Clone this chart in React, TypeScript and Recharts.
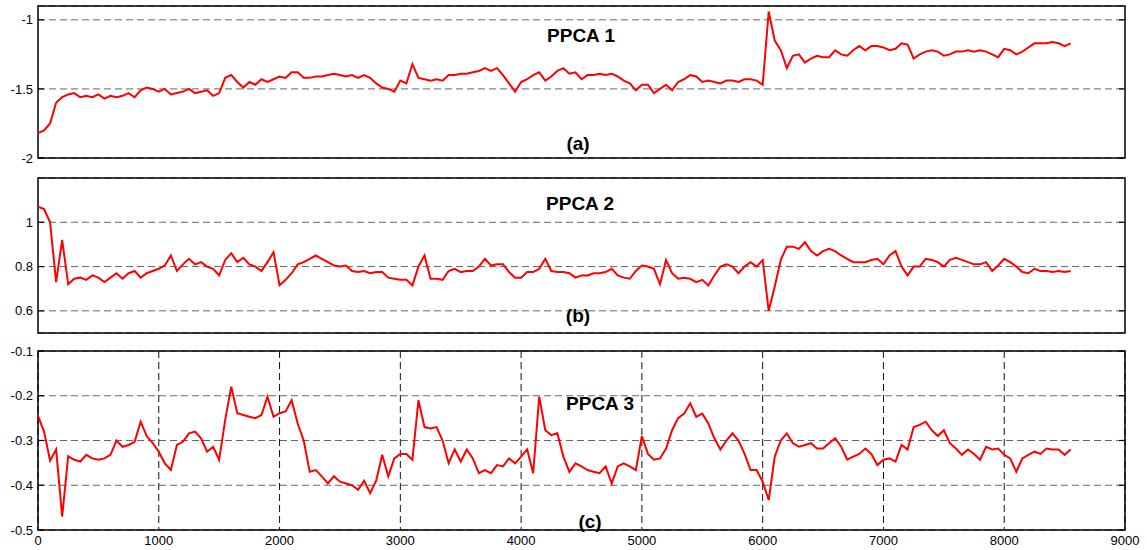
import { LineChart, Line, XAxis, YAxis, CartesianGrid, ReferenceArea } from 'recharts'

const FONT = '"Liberation Sans", Arial, Helvetica, sans-serif'
const STEP = 50

const xTicks = [0, 1000, 2000, 3000, 4000, 5000, 6000, 7000, 8000, 9000]
const ticks1 = [-2, -1.5, -1]
const ticks2 = [0.6, 0.8, 1]
const ticks3 = [-0.5, -0.4, -0.3, -0.2, -0.1]

const ppca1 = [
  -1.82, -1.80, -1.75, -1.60, -1.56, -1.54, -1.53, -1.56, -1.55, -1.56,
  -1.54, -1.57, -1.55, -1.56, -1.55, -1.53, -1.56, -1.51, -1.49, -1.50,
  -1.52, -1.50, -1.54, -1.53, -1.52, -1.50, -1.53, -1.52, -1.51, -1.55,
  -1.53, -1.42, -1.40, -1.45, -1.49, -1.45, -1.47, -1.43, -1.45, -1.43,
  -1.41, -1.42, -1.38, -1.38, -1.42, -1.42, -1.41, -1.41, -1.40, -1.39,
  -1.40, -1.41, -1.40, -1.42, -1.40, -1.42, -1.46, -1.49, -1.50, -1.52,
  -1.44, -1.46, -1.32, -1.42, -1.43, -1.44, -1.43, -1.44, -1.40, -1.40,
  -1.39, -1.39, -1.38, -1.37, -1.35, -1.37, -1.35, -1.40, -1.46, -1.52,
  -1.45, -1.43, -1.40, -1.38, -1.44, -1.41, -1.37, -1.35, -1.39, -1.38,
  -1.43, -1.40, -1.40, -1.39, -1.40, -1.39, -1.41, -1.44, -1.46, -1.51,
  -1.47, -1.47, -1.53, -1.50, -1.47, -1.51, -1.45, -1.43, -1.40, -1.41,
  -1.45, -1.44, -1.45, -1.46, -1.44, -1.44, -1.45, -1.43, -1.43, -1.44,
  -1.47, -0.94, -1.15, -1.22, -1.35, -1.26, -1.25, -1.31, -1.28, -1.26,
  -1.27, -1.27, -1.22, -1.25, -1.26, -1.22, -1.19, -1.22, -1.19, -1.19,
  -1.20, -1.22, -1.21, -1.17, -1.18, -1.28, -1.25, -1.23, -1.22, -1.23,
  -1.26, -1.25, -1.23, -1.23, -1.22, -1.23, -1.22, -1.23, -1.25, -1.27,
  -1.21, -1.22, -1.25, -1.23, -1.20, -1.17, -1.17, -1.17, -1.16, -1.17,
  -1.19, -1.17,
]

const ppca2 = [
  1.07, 1.06, 1.0, 0.73, 0.92, 0.72, 0.745, 0.75, 0.74, 0.76,
  0.75, 0.73, 0.75, 0.77, 0.745, 0.77, 0.78, 0.75, 0.77, 0.78,
  0.79, 0.805, 0.85, 0.78, 0.81, 0.835, 0.81, 0.82, 0.80, 0.79,
  0.76, 0.83, 0.86, 0.82, 0.84, 0.81, 0.80, 0.78, 0.82, 0.865,
  0.715, 0.74, 0.77, 0.81, 0.82, 0.835, 0.85, 0.835, 0.82, 0.805,
  0.80, 0.805, 0.78, 0.775, 0.78, 0.77, 0.775, 0.775, 0.75, 0.745,
  0.74, 0.74, 0.715, 0.80, 0.85, 0.745, 0.745, 0.74, 0.78, 0.79,
  0.775, 0.78, 0.78, 0.80, 0.835, 0.805, 0.81, 0.81, 0.775, 0.75,
  0.75, 0.775, 0.775, 0.79, 0.835, 0.78, 0.775, 0.775, 0.77, 0.75,
  0.76, 0.76, 0.77, 0.77, 0.775, 0.79, 0.76, 0.75, 0.745, 0.78,
  0.805, 0.80, 0.79, 0.72, 0.83, 0.77, 0.745, 0.75, 0.745, 0.73,
  0.74, 0.715, 0.76, 0.80, 0.81, 0.80, 0.77, 0.80, 0.82, 0.80,
  0.83, 0.60, 0.71, 0.83, 0.89, 0.89, 0.88, 0.91, 0.87, 0.85,
  0.87, 0.88, 0.87, 0.85, 0.835, 0.82, 0.82, 0.82, 0.83, 0.835,
  0.81, 0.85, 0.87, 0.80, 0.76, 0.80, 0.80, 0.835, 0.83, 0.82,
  0.80, 0.83, 0.84, 0.83, 0.82, 0.81, 0.81, 0.82, 0.78, 0.805,
  0.835, 0.82, 0.80, 0.775, 0.77, 0.79, 0.78, 0.78, 0.775, 0.78,
  0.775, 0.78,
]

const ppca3 = [
  -0.245, -0.28, -0.345, -0.32, -0.47, -0.335, -0.343, -0.347, -0.332, -0.34,
  -0.343, -0.34, -0.332, -0.30, -0.314, -0.31, -0.303, -0.258, -0.29, -0.306,
  -0.325, -0.351, -0.366, -0.31, -0.303, -0.284, -0.28, -0.295, -0.325, -0.314,
  -0.343, -0.254, -0.18, -0.239, -0.243, -0.247, -0.25, -0.243, -0.202, -0.247,
  -0.239, -0.235, -0.21, -0.262, -0.30, -0.37, -0.366, -0.38, -0.396, -0.38,
  -0.392, -0.396, -0.40, -0.41, -0.39, -0.418, -0.39, -0.332, -0.38, -0.34,
  -0.33, -0.33, -0.343, -0.21, -0.27, -0.273, -0.27, -0.30, -0.351, -0.32,
  -0.347, -0.32, -0.34, -0.373, -0.366, -0.373, -0.355, -0.358, -0.34, -0.351,
  -0.336, -0.32, -0.373, -0.202, -0.277, -0.288, -0.284, -0.336, -0.37, -0.351,
  -0.358, -0.366, -0.37, -0.373, -0.358, -0.396, -0.358, -0.351, -0.358, -0.366,
  -0.29, -0.33, -0.343, -0.34, -0.318, -0.277, -0.25, -0.24, -0.217, -0.247,
  -0.24, -0.262, -0.295, -0.32, -0.30, -0.284, -0.30, -0.33, -0.366, -0.366,
  -0.392, -0.433, -0.336, -0.30, -0.284, -0.306, -0.314, -0.31, -0.306, -0.318,
  -0.318, -0.306, -0.295, -0.314, -0.343, -0.336, -0.33, -0.318, -0.33, -0.355,
  -0.343, -0.34, -0.347, -0.31, -0.32, -0.27, -0.265, -0.258, -0.277, -0.29,
  -0.277, -0.306, -0.318, -0.332, -0.32, -0.33, -0.343, -0.314, -0.32, -0.318,
  -0.332, -0.34, -0.37, -0.34, -0.332, -0.325, -0.33, -0.318, -0.32, -0.32,
  -0.332, -0.32,
]

const toRows = (vals: number[]) => vals.map((v, i) => ({ x: i * STEP, v }))

interface PanelProps {
  values: number[]
  top: number
  height: number
  mt: number
  mb: number
  domain: [number, number]
  yTicks: number[]
  showX?: boolean
}

function Panel({ values, top, height, mt, mb, domain, yTicks, showX = false }: PanelProps) {
  const tickStyle = { fill: '#000', fontSize: 13, fontFamily: FONT }
  const blank = () => ''
  return (
    <div style={{ position: 'absolute', left: 0, top }}>
      <LineChart width={1147} height={height} data={toRows(values)} margin={{ top: mt, right: 22, bottom: mb, left: 0 }}>
        <CartesianGrid horizontal vertical={false} stroke="#666" strokeDasharray="7 4" />
        {showX && <CartesianGrid horizontal={false} vertical stroke="#111" strokeDasharray="7 4" />}
        <XAxis
          dataKey="x"
          type="number"
          domain={[0, 9000]}
          ticks={xTicks}
          hide={!showX}
          height={20}
          tickLine={false}
          axisLine={false}
          tickSize={4}
          tickMargin={2}
          tick={tickStyle}
          interval={0}
        />
        <YAxis
          type="number"
          domain={domain}
          ticks={yTicks}
          allowDataOverflow
          width={38}
          tickLine={false}
          axisLine={false}
          tickSize={4}
          tickMargin={1}
          tick={tickStyle}
          tickFormatter={(v: number) => String(v)}
          interval={0}
        />
        {/* inward tick marks, matlab style */}
        <YAxis
          yAxisId="inL"
          orientation="left"
          mirror
          type="number"
          domain={domain}
          ticks={yTicks}
          allowDataOverflow
          axisLine={false}
          tickLine={{ stroke: '#000', strokeWidth: 1.2 }}
          tickSize={6}
          tickFormatter={blank}
          interval={0}
        />
        <YAxis
          yAxisId="inR"
          orientation="right"
          mirror
          type="number"
          domain={domain}
          ticks={yTicks}
          allowDataOverflow
          axisLine={false}
          tickLine={{ stroke: '#000', strokeWidth: 1.2 }}
          tickSize={6}
          tickFormatter={blank}
          interval={0}
        />
        <ReferenceArea
          x1={0}
          x2={9000}
          y1={domain[0]}
          y2={domain[1]}
          fill="none"
          stroke="#000"
          strokeWidth={1.5}
          ifOverflow="visible"
        />
        <Line type="linear" dataKey="v" stroke="#ff0000" strokeWidth={2} dot={false} isAnimationActive={false} />
      </LineChart>
    </div>
  )
}

const labels = [
  { text: 'PPCA 1', x: 581, y: 35 },
  { text: '(a)', x: 578, y: 143 },
  { text: 'PPCA 2', x: 580, y: 203 },
  { text: '(b)', x: 578, y: 315 },
  { text: 'PPCA 3', x: 600, y: 403 },
  { text: '(c)', x: 590, y: 521 },
]

export default function App() {
  return (
    <div style={{ position: 'absolute', left: 0, top: 0, width: 1147, height: 550, background: '#fff', fontFamily: FONT }}>
      <Panel values={ppca1} top={0} height={170} mt={6} mb={12} domain={[-2, -0.9]} yTicks={ticks1} />
      <Panel values={ppca2} top={170} height={170} mt={8} mb={7} domain={[0.5, 1.2]} yTicks={ticks2} />
      <Panel values={ppca3} top={340} height={210} mt={11} mb={0} domain={[-0.5, -0.1]} yTicks={ticks3} showX />
      <svg width={1147} height={550} style={{ position: 'absolute', left: 0, top: 0, pointerEvents: 'none' }}>
        {labels.map(l => (
          <text
            key={l.text}
            x={l.x}
            y={l.y}
            textAnchor="middle"
            dominantBaseline="central"
            fontFamily={FONT}
            fontWeight="bold"
            fontSize={19}
            fill="#000"
          >
            {l.text}
          </text>
        ))}
      </svg>
    </div>
  )
}
